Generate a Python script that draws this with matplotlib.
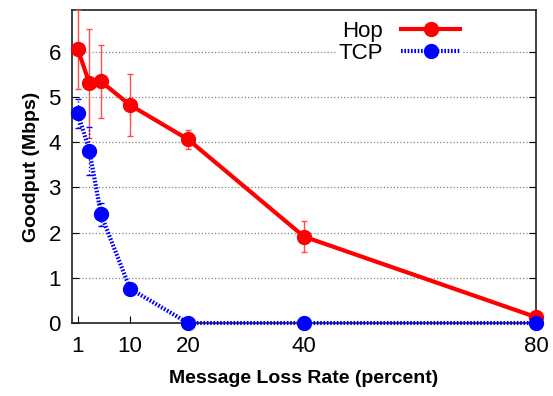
import matplotlib
matplotlib.use("Agg")
import matplotlib.pyplot as plt
from matplotlib.lines import Line2D

plt.rcParams['font.family'] = ['Liberation Sans', 'DejaVu Sans']

# loss rate (percent)
loss = [1, 3, 5, 10, 20, 40, 80]
hop = [6.05, 5.30, 5.34, 4.82, 4.06, 1.91, 0.13]
hop_err = [0.88, 1.20, 0.80, 0.69, 0.21, 0.34, 0.0]
tcp = [4.64, 3.81, 2.40, 0.76, 0.0, 0.0, 0.0]
tcp_err = [0.32, 0.53, 0.25, 0.05, 0.0, 0.0, 0.0]
xticks = [1, 10, 20, 40, 80]

tcp_ls = (0, (0.4, 0.4))

fig = plt.figure(figsize=(5.53, 3.96), dpi=100)
ax = fig.add_axes([72/553, 73/396, 464/553, 313/396])

ax.errorbar(loss, hop, yerr=hop_err, color='red', lw=3, marker='o', ms=10,
            ecolor=(1, 0.3, 0.3), elinewidth=1, capsize=2, zorder=3,
            clip_on=False)
eb = ax.errorbar(loss, tcp, yerr=tcp_err, color='blue', lw=3, ls=tcp_ls,
                 marker='o', ms=10, ecolor='blue', elinewidth=1, capsize=2,
                 zorder=4, clip_on=False)
for c in eb[2]:
    c.set_linestyle(':')

ax.set_xlim(0, 80)
ax.set_ylim(0, 6.92)
ax.set_xticks(xticks)
ax.set_yticks(range(7))
ax.tick_params(direction='in', labelsize=16, length=5, right=True)
ax.tick_params(axis='x', pad=9)
ax.tick_params(axis='y', pad=8)
ax.yaxis.grid(True, ls=':', color='gray', lw=0.9)
for s in ax.spines.values():
    s.set_linewidth(1.2)
    s.set_color('#222222')

ax.set_xlabel('Message Loss Rate (percent)', fontsize=14, fontweight='bold', labelpad=10)
ax.set_ylabel('Goodput (Mbps)', fontsize=14, fontweight='bold', labelpad=6)

handles = [Line2D([], [], color='red', lw=3, marker='o', ms=10),
           Line2D([], [], color='blue', lw=3, ls=tcp_ls, marker='o', ms=10)]
leg = ax.legend(handles, ['Hop', 'TCP'], loc='upper right',
                bbox_to_anchor=(0.865, 1.008), frameon=True,
                edgecolor='none', fancybox=False, framealpha=1, fontsize=16,
                markerfirst=False, handlelength=2.65, borderpad=0.1,
                labelspacing=0.05, handletextpad=0.8)

fig.savefig('out.png', dpi=100)
